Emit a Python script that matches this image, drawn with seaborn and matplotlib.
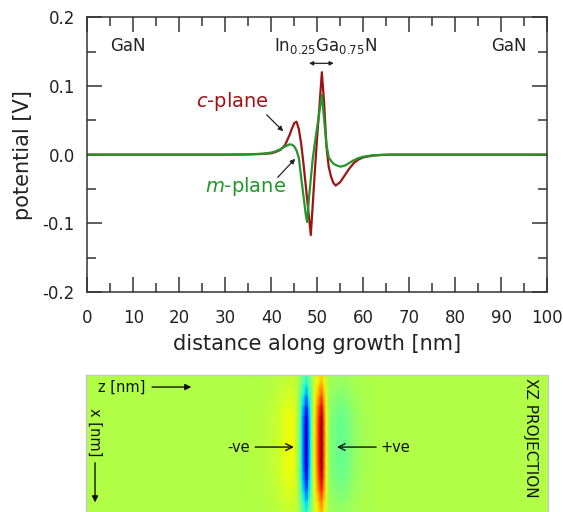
import numpy as np
import pandas as pd
import matplotlib
matplotlib.use("Agg")
import matplotlib.pyplot as plt
from matplotlib.ticker import MultipleLocator, FormatStrFormatter
import seaborn as sns

# ---------------- data ----------------
distance_nm = [0, 10, 20, 30, 34, 36, 38, 40, 41, 42, 43, 44, 44.5, 45, 45.5, 46, 46.5,
               47, 47.5, 47.8, 48.2, 48.6, 49, 49.5, 50, 50.5, 51, 51.5, 52, 52.5, 53,
               53.5, 54, 55, 56, 57, 58, 59, 60, 62, 64, 66, 70, 80, 90, 100]
c_plane = [0, 0, 0, 0, 0.0003, 0.0006, 0.001, 0.002, 0.004, 0.007, 0.014, 0.029, 0.038,
           0.046, 0.048, 0.037, 0.016, -0.013, -0.045, -0.065, -0.091, -0.117, -0.075,
           -0.022, 0.028, 0.072, 0.120, 0.075, 0.012, -0.018, -0.032, -0.041, -0.045,
           -0.040, -0.030, -0.020, -0.012, -0.007, -0.004, -0.0015, -0.0005, 0, 0, 0, 0, 0]
m_plane = [0, 0, 0, 0, 0.0003, 0.0007, 0.0013, 0.003, 0.005, 0.008, 0.012, 0.015, 0.0145,
           0.012, 0.006, -0.005, -0.033, -0.060, -0.087, -0.098, -0.063, -0.035, -0.007,
           0.018, 0.041, 0.064, 0.087, 0.051, 0.015, -0.004, -0.009, -0.013, -0.015,
           -0.0175, -0.016, -0.012, -0.008, -0.005, -0.003, -0.001, -0.0003, 0, 0, 0, 0, 0]
# relative strength of the XZ projection rows (top to bottom)
projection_row_strength = [0.25, 0.4, 0.6, 0.8, 0.95, 1.0, 1.0, 1.0, 1.0, 0.95, 0.85,
                           0.7, 0.5, 0.35]
x_ticks = [0, 10, 20, 30, 40, 50, 60, 70, 80, 90, 100]
y_ticks = [-0.2, -0.1, 0.0, 0.1, 0.2]

C_RED = "#9b1515"
M_GREEN = "#22962a"
AX_COL = "#333333"

sns.set_theme(style="white")
plt.rcParams["font.family"] = ["DejaVu Sans"]
plt.rcParams["axes.unicode_minus"] = False
plt.rcParams["mathtext.fontset"] = "dejavusans"

fig = plt.figure(figsize=(5.63, 5.12), dpi=100)

# ---------------- main line chart ----------------
ax = fig.add_axes([0.1554, 0.4297, 0.8162, 0.5365])
df = pd.concat([
    pd.DataFrame({"distance": distance_nm, "potential": c_plane, "plane": "c-plane"}),
    pd.DataFrame({"distance": distance_nm, "potential": m_plane, "plane": "m-plane"}),
])
sns.lineplot(data=df, x="distance", y="potential", hue="plane",
             hue_order=["c-plane", "m-plane"],
             palette={"c-plane": C_RED, "m-plane": M_GREEN},
             estimator=None, sort=False, legend=False, linewidth=1.6, ax=ax)

ax.set_xlim(0, 100)
ax.set_ylim(-0.2, 0.2)
ax.set_xticks(x_ticks)
ax.set_yticks(y_ticks)
ax.xaxis.set_minor_locator(MultipleLocator(5))
ax.yaxis.set_minor_locator(MultipleLocator(0.05))
ax.yaxis.set_major_formatter(FormatStrFormatter("%.1f"))
ax.tick_params(which="both", direction="in", top=True, right=True, left=True,
               bottom=True, color=AX_COL, width=1.1, labelsize=12,
               labelcolor="#222222")
ax.tick_params(which="major", length=11)
ax.tick_params(which="minor", length=6.5)
ax.tick_params(axis="x", which="major", pad=12)
ax.tick_params(axis="y", which="major", pad=9)
for sp in ax.spines.values():
    sp.set_color(AX_COL)
    sp.set_linewidth(1.1)
ax.set_xlabel("distance along growth [nm]", fontsize=15, color="#222222", labelpad=5)
ax.set_ylabel("potential [V]", fontsize=15, color="#222222", labelpad=7)

ax.text(8.8, 0.158, "GaN", fontsize=12, ha="center", va="center", color="#222222")
ax.text(91.8, 0.158, "GaN", fontsize=12, ha="center", va="center", color="#222222")
ax.text(51.7, 0.158, r"In$_{0.25}$Ga$_{0.75}$N", fontsize=12, ha="center",
        va="center", color="#222222")
ax.annotate("", xy=(48.2, 0.133), xytext=(53.6, 0.133),
            arrowprops=dict(arrowstyle="<|-|>", color="#222222", lw=0.9,
                            mutation_scale=6, shrinkA=0, shrinkB=0))

ax.text(31.5, 0.077, r"$c$-plane", fontsize=14, ha="center", va="center", color=C_RED)
ax.annotate("", xy=(42.6, 0.034), xytext=(39.0, 0.058),
            arrowprops=dict(arrowstyle="-|>", color="#222222", lw=0.9,
                            mutation_scale=7, shrinkA=0, shrinkB=0))
ax.text(34.5, -0.047, r"$m$-plane", fontsize=14, ha="center", va="center", color=M_GREEN)
ax.annotate("", xy=(45.2, -0.006), xytext=(41.4, -0.033),
            arrowprops=dict(arrowstyle="-|>", color="#222222", lw=0.9,
                            mutation_scale=7, shrinkA=0, shrinkB=0))

# ---------------- XZ projection ----------------
ax2 = fig.add_axes([0.1528, 0.0, 0.8206, 0.2676])
zz = np.asarray(distance_nm, dtype=float)
rows = np.arange(len(projection_row_strength), dtype=float)
Z, R = np.meshgrid(zz, rows)
C = np.outer(projection_row_strength, m_plane)
ax2.pcolormesh(Z, R, C, shading="gouraud", cmap="jet", vmin=-0.11, vmax=0.085)
ax2.set_xlim(0, 100)
ax2.set_ylim(rows[-1], 0)
ax2.set_xticks([])
ax2.set_yticks([])
for name, sp in ax2.spines.items():
    sp.set_color("#c8c8c8")
    sp.set_linewidth(1.0)
ax2.spines["bottom"].set_visible(False)

tr = ax2.transAxes
ax2.text(0.026, 0.912, "z [nm]", transform=tr, fontsize=10.5, ha="left", va="center",
         color="#111111")
ax2.annotate("", xy=(0.228, 0.912), xytext=(0.143, 0.912), xycoords=tr, textcoords=tr,
             arrowprops=dict(arrowstyle="-|>", color="#111111", lw=1.0,
                             mutation_scale=9, shrinkA=0, shrinkB=0))
ax2.text(0.0195, 0.58, "x [nm]", transform=tr, fontsize=10.5, ha="center", va="center",
         rotation=-90, color="#111111")
ax2.annotate("", xy=(0.0195, 0.07), xytext=(0.0195, 0.36), xycoords=tr, textcoords=tr,
             arrowprops=dict(arrowstyle="-|>", color="#111111", lw=1.0,
                             mutation_scale=9, shrinkA=0, shrinkB=0))
ax2.text(0.331, 0.474, "-ve", transform=tr, fontsize=10.5, ha="center", va="center",
         color="#111111")
ax2.annotate("", xy=(0.450, 0.474), xytext=(0.366, 0.474), xycoords=tr, textcoords=tr,
             arrowprops=dict(arrowstyle="->", color="#111111", lw=1.0,
                             mutation_scale=12, shrinkA=0, shrinkB=0))
ax2.text(0.669, 0.474, "+ve", transform=tr, fontsize=10.5, ha="center", va="center",
         color="#111111")
ax2.annotate("", xy=(0.543, 0.474), xytext=(0.628, 0.474), xycoords=tr, textcoords=tr,
             arrowprops=dict(arrowstyle="->", color="#111111", lw=1.0,
                             mutation_scale=12, shrinkA=0, shrinkB=0))
ax2.text(0.962, 0.54, "XZ PROJECTION", transform=tr, fontsize=11, ha="center",
         va="center", rotation=-90, color="#111111")

fig.savefig("out.png", dpi=100)
